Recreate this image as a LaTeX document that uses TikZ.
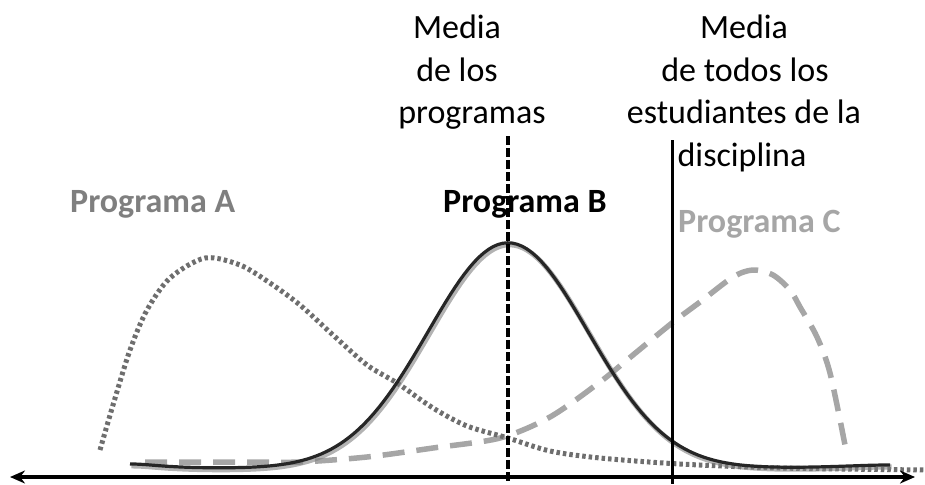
\documentclass[tikz,border=0pt]{standalone}
\usepackage{fontspec}
\setmainfont{Carlito}
\usetikzlibrary{arrows.meta}
\definecolor{colA}{HTML}{6E6E6E}
\definecolor{colAtxt}{HTML}{7F7F7F}
\definecolor{colC}{HTML}{A6A6A6}
\tikzset{
  lbl/.style={inner sep=0pt, anchor=base, font=\fontsize{34}{40}\selectfont},
  prog/.style={inner sep=0pt, anchor=base west, font=\fontsize{34}{40}\selectfont\bfseries},
  curveA/.style={colA, line width=5pt, dash pattern=on 3.5pt off 3pt},
  curveB/.style={black!85, line width=3.2pt},
  shadowB/.style={black!50, line width=5pt, opacity=0.6},
  curveC/.style={colC, line width=5.5pt, dash pattern=on 22pt off 12pt},
  axisline/.style={black, line width=3.6pt, {Stealth[length=15pt,width=13pt]}-{Stealth[length=15pt,width=13pt]}},
}
\begin{document}
\begin{tikzpicture}[x=1pt,y=-1pt]
\useasboundingbox (0,0) rectangle (925,484);
% labels
\node[lbl] (m1) at (457,39) {Media};
\node[lbl] (m2) at (457,82) {de los};
\node[lbl] (m3) at (472,124) {programas};
\node[lbl] (d1) at (744,39) {Media};
\node[lbl] (d2) at (745,82) {de todos los};
\node[lbl] (d3) at (744,124) {estudiantes de la};
\node[lbl] (d4) at (742,166) {disciplina};
\node[prog, text=colAtxt] (pa) at (70,212) {Programa A};
\node[prog, text=black] (pb) at (443,212) {Programa B};
\node[prog, text=colC] (pc) at (678,232) {Programa C};
% coordinates
\coordinate (axL) at (10,477);
\coordinate (axR) at (915,477);
\coordinate (mpTop) at (508,136);
\coordinate (mpBot) at (508,481);
\coordinate (mdTop) at (672,140);
\coordinate (mdBot) at (672,484);
% curve C (dashed)
\draw[curveC] plot[smooth] coordinates {(145,462) (250,462) (300,462) (367,457) (433,448) (500,438) (550,417) (600,382) (633,355) (672,323) (700,302) (733,277) (753,270) (773,275) (790,290) (800,307) (817,337) (830,373) (845,445)};
% curve A (dotted)
\draw[curveA] plot[smooth] coordinates {(100,450) (113,405) (130,350) (147,310) (170,278) (205,258) (240,265) (270,283) (300,305) (333,335) (367,365) (397,383) (433,408) (467,426) (508,438) (550,451) (600,458) (680,464) (780,468) (925,470)};
% curve B (solid with shadow)
\draw[shadowB, shift={(1.5,2)}] plot[domain=130:890, samples=160] (\x, {469 - 226*exp(-((\x-508)/80)^2/2) - 5/(1+((\x-130)/40)^2) - 4/(1+((\x-890)/70)^2)});
\draw[curveB] plot[domain=130:890, samples=160] (\x, {469 - 226*exp(-((\x-508)/80)^2/2) - 5/(1+((\x-130)/40)^2) - 4/(1+((\x-890)/70)^2)});
% mean lines
\draw[black, line width=3.2pt, dash pattern=on 9pt off 3pt] (mpTop) -- (mpBot);
\draw[black, line width=3pt] (mdTop) -- (mdBot);
% axis
\draw[axisline] (axL) -- (axR);
\end{tikzpicture}
\end{document}
